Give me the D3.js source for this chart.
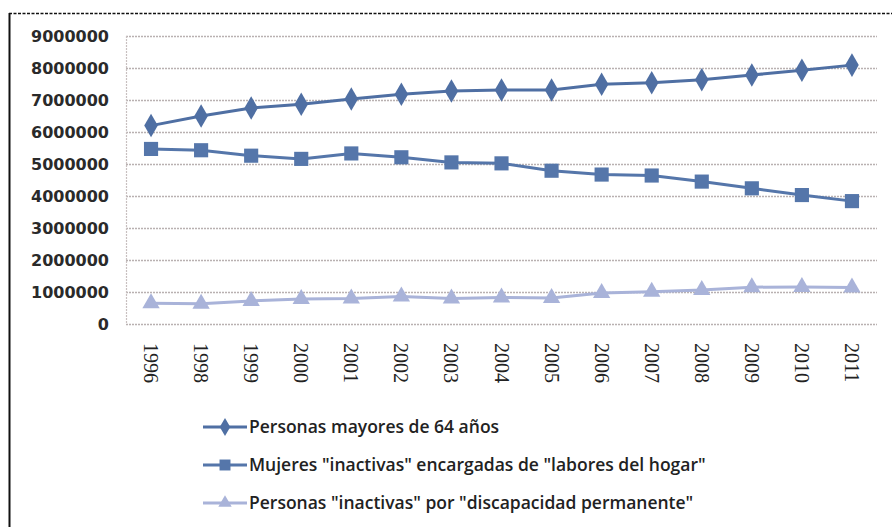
<!DOCTYPE html>
<html>
<head>
<meta charset="utf-8">
<script src="https://cdn.jsdelivr.net/npm/d3@7"></script>
<style>
  body { margin: 0; background: #fff; }
  svg { display: block; }
</style>
</head>
<body>
<div id="chart"></div>
<script>
"use strict"

const years = ["1996", "1998", "1999", "2000", "2001", "2002", "2003", "2004", "2005", "2006", "2007", "2008", "2009", "2010", "2011"]

const mayores = [6200000, 6500000, 6750000, 6870000, 7030000, 7180000, 7280000, 7310000, 7310000, 7490000, 7540000, 7630000, 7780000, 7930000, 8090000]
const mujeres = [5470000, 5430000, 5260000, 5160000, 5330000, 5210000, 5050000, 5020000, 4790000, 4670000, 4640000, 4450000, 4240000, 4030000, 3840000]
const discapacidad = [650000, 630000, 720000, 780000, 800000, 860000, 800000, 830000, 810000, 970000, 1010000, 1060000, 1150000, 1160000, 1140000]

const yTicks = [0, 1000000, 2000000, 3000000, 4000000, 5000000, 6000000, 7000000, 8000000, 9000000]

const seriesNames = [
  "Personas mayores de 64 años",
  "Mujeres \"inactivas\" encargadas de \"labores del hogar\"",
  "Personas \"inactivas\" por \"discapacidad permanente\""
]

const series = [
  { name: seriesNames[0], values: mayores, color: "#4f6fa3", marker: "diamond" },
  { name: seriesNames[1], values: mujeres, color: "#5576aa", marker: "square" },
  { name: seriesNames[2], values: discapacidad, color: "#a9b3d9", marker: "triangle" }
]

const width = 892, height = 527
const plot = { left: 126, top: 36, right: 877, bottom: 324 }

const svg = d3.select("#chart").append("svg")
  .attr("width", width)
  .attr("height", height)

// outer frame: dashed top, solid left
svg.append("line")
  .attr("x1", 9).attr("x2", width).attr("y1", 13.5).attr("y2", 13.5)
  .attr("stroke", "#111").attr("stroke-width", 1.5).attr("stroke-dasharray", "3 1.5")
svg.append("line")
  .attr("x1", 9.5).attr("x2", 9.5).attr("y1", 13).attr("y2", height)
  .attr("stroke", "#111").attr("stroke-width", 2)

const x = d3.scaleBand()
  .domain(years)
  .range([plot.left, plot.right])

const y = d3.scaleLinear()
  .domain([0, 9000000])
  .range([plot.bottom, plot.top])

// gridlines
svg.append("g")
  .attr("class", "grid")
  .selectAll("line")
  .data(yTicks)
  .enter()
    .append("line")
    .attr("x1", plot.left)
    .attr("x2", plot.right)
    .attr("y1", (d) => Math.round(y(d)) + 0.5)
    .attr("y2", (d) => Math.round(y(d)) + 0.5)
    .attr("stroke", "#b9b1b1")
    .attr("stroke-width", 1.5)
    .attr("stroke-dasharray", "2 1")

svg.append("line")
  .attr("x1", plot.left + 0.5).attr("x2", plot.left + 0.5)
  .attr("y1", plot.top).attr("y2", plot.bottom)
  .attr("stroke", "#c8c0c0").attr("stroke-width", 1.2).attr("stroke-dasharray", "2 1")

// y axis labels
const yAxis = d3.axisLeft(y).tickValues(yTicks).tickSize(0).tickPadding(17).tickFormat(d3.format("d"))
svg.append("g")
  .attr("transform", `translate(${plot.left},0)`)
  .call(yAxis)
  .call((g) => g.select(".domain").remove())
  .selectAll("text")
    .attr("font-family", "'DejaVu Sans', sans-serif")
    .attr("font-size", "16px")
    .attr("font-weight", "bold")
    .attr("fill", "#2a2a2a")
    .attr("dy", "0.35em")

// x axis labels, rotated
const xAxis = d3.axisBottom(x).tickSize(0).tickPadding(0)
svg.append("g")
  .attr("transform", `translate(0,${plot.bottom})`)
  .call(xAxis)
  .call((g) => g.select(".domain").remove())
  .selectAll("text")
    .attr("font-family", "'Liberation Serif', 'Times New Roman', serif")
    .attr("font-size", "20px")
    .attr("fill", "#222")
    .attr("text-anchor", "start")
    .attr("transform", "translate(0,19) rotate(90)")
    .attr("x", 0)
    .attr("y", 0)
    .attr("dy", "0.35em")

const symbolFor = (m, size) => {
  if (m == "diamond") return d3.symbol().type(d3.symbolDiamond).size(size)()
  if (m == "square") return d3.symbol().type(d3.symbolSquare).size(size)()
  return d3.symbol().type(d3.symbolTriangle).size(size)()
}
const markerSize = { diamond: 160, square: 200, triangle: 130 }

const line = d3.line()
  .x((d, i) => x(years[i]) + x.bandwidth() / 2)
  .y((d) => y(d))

const lines = svg.append("g").attr("class", "series")

series.forEach((s) => {
  let g = lines.append("g")
  g.append("path")
    .datum(s.values)
    .attr("fill", "none")
    .attr("stroke", s.color)
    .attr("stroke-width", 3)
    .attr("d", line)

  g.selectAll("path.marker")
    .data(s.values)
    .enter()
      .append("path")
      .attr("class", "marker")
      .attr("d", symbolFor(s.marker, markerSize[s.marker]))
      .attr("transform", (d, i) => `translate(${x(years[i]) + x.bandwidth() / 2},${y(d)})`)
      .attr("fill", s.color)
})

// legend
const legend = svg.append("g").attr("class", "legend")
const legendY = [427, 465, 503]

series.forEach((s, i) => {
  let g = legend.append("g").attr("transform", `translate(203,${legendY[i]})`)
  g.append("line")
    .attr("x1", 0).attr("x2", 44)
    .attr("stroke", s.color).attr("stroke-width", 3)
  g.append("path")
    .attr("d", symbolFor(s.marker, markerSize[s.marker] * 0.6))
    .attr("transform", "translate(22,0)")
    .attr("fill", s.color)
  g.append("text")
    .attr("x", 46)
    .attr("dy", "0.35em")
    .attr("font-family", "'Open Sans', 'DejaVu Sans', sans-serif")
    .attr("font-size", "17.5px")
    .attr("font-weight", 600)
    .attr("fill", "#222")
    .text(s.name)
})
</script>
</body>
</html>
